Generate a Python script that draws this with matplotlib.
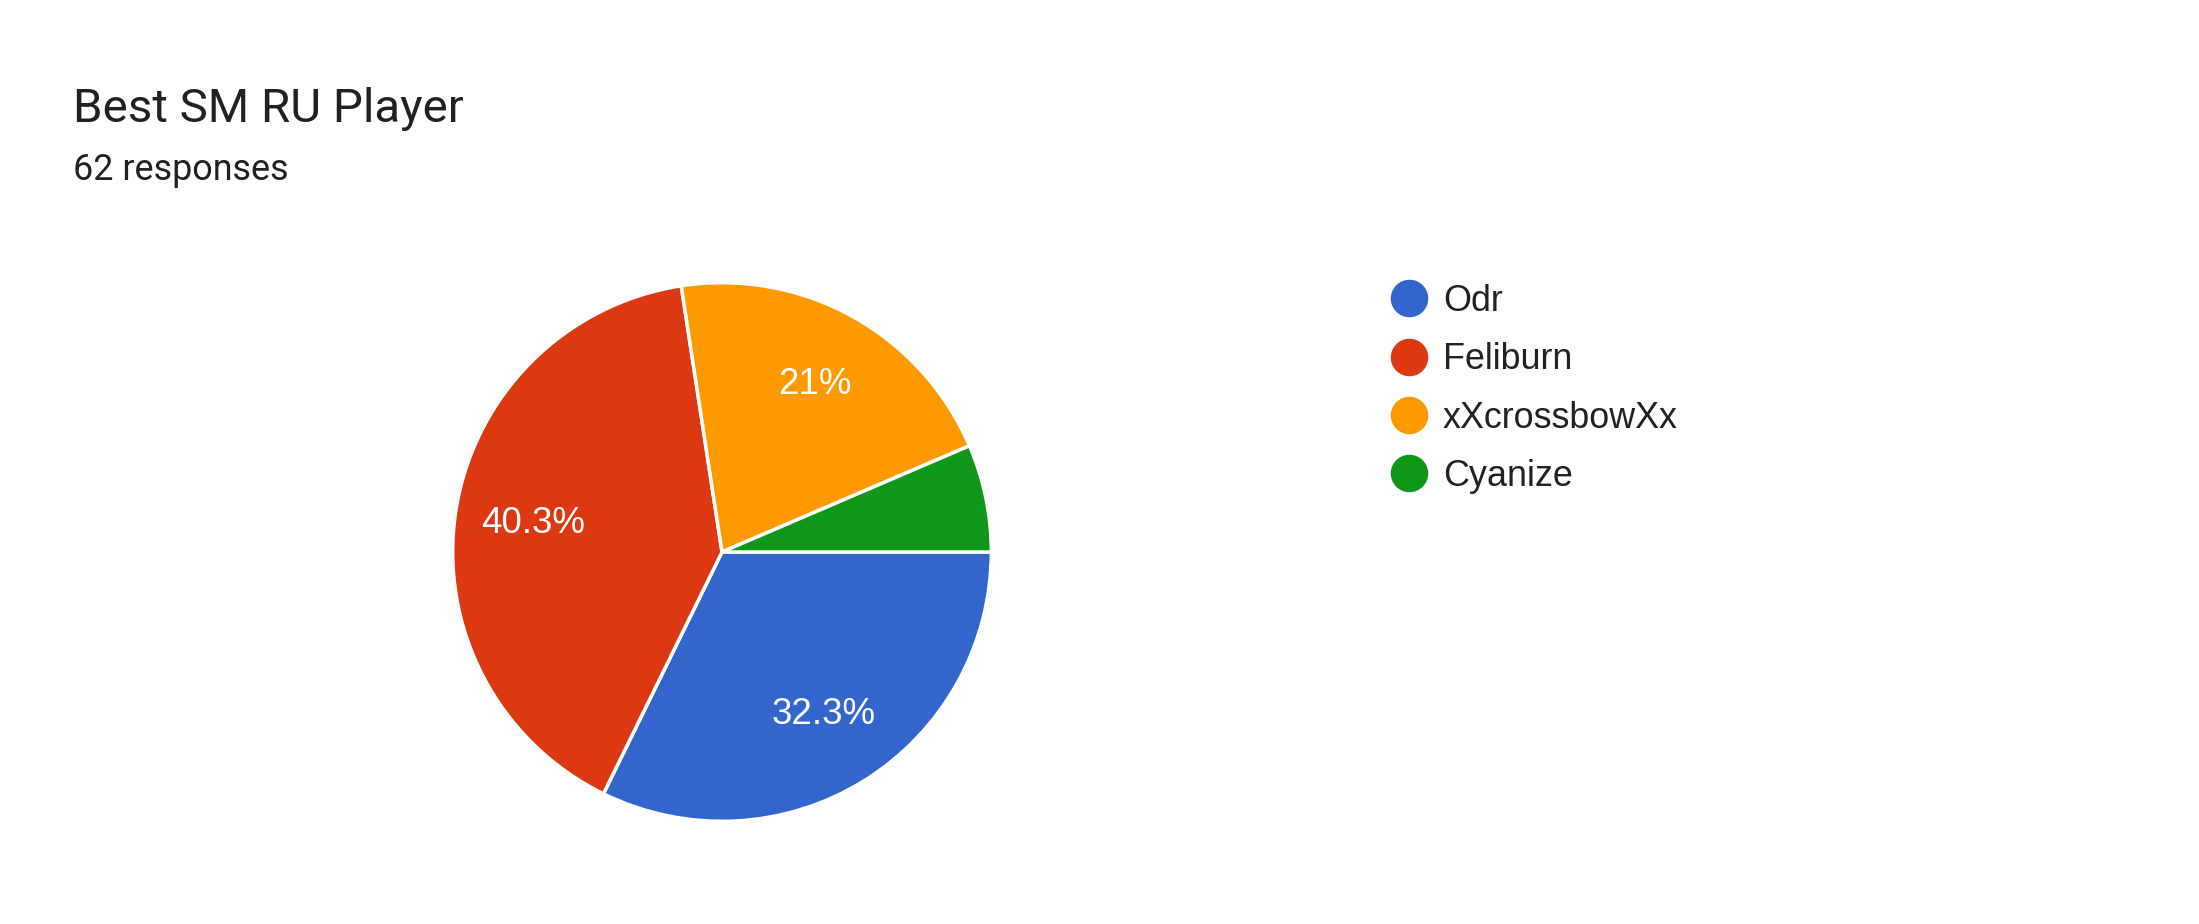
import matplotlib
matplotlib.use('Agg')
import matplotlib.pyplot as plt
from matplotlib.lines import Line2D

# data
players = ['Odr', 'Feliburn', 'xXcrossbowXx', 'Cyanize']
votes = [20, 25, 13, 4]
colors = ['#3366cc', '#dc3912', '#ff9900', '#109618']
title = 'Best SM RU Player'
subtitle = '62 responses'

W, H = 2199, 924
fig = plt.figure(figsize=(W / 100, H / 100), dpi=100)
fig.patch.set_facecolor('white')


def fx(px):
    return px / W


def fy(py):
    return 1 - py / H


fig.text(fx(73), fy(122), title, family='Roboto', fontsize=34.2,
         color='#202124', va='baseline')
fig.text(fx(73), fy(180), subtitle, family='Roboto', fontsize=25.8,
         color='#202124', va='baseline')

# pie: centre (722, 552), radius 272 px
cx, cy, r = 722, 552, 272
ax = fig.add_axes([fx(cx - r), fy(cy + r), 2 * r / W, 2 * r / H])


def pct_label(p):
    if p < 10:
        return ''
    s = f'{p:.1f}'
    if s.endswith('.0'):
        s = s[:-2]
    return s + '%'


wedges, texts, autotexts = ax.pie(
    votes, colors=colors, startangle=0, counterclock=False,
    autopct=pct_label, pctdistance=0.71, radius=1,
    wedgeprops=dict(edgecolor='white', linewidth=2.5),
    textprops=dict(color='white', fontsize=26.5, family='Liberation Sans'))
ax.set_xlim(-1.01, 1.01)
ax.set_ylim(-1.01, 1.01)
ax.set_aspect('equal')
ax.axis('off')

handles = [Line2D([], [], marker='o', linestyle='', markersize=26,
                  markerfacecolor=c, markeredgecolor=c) for c in colors]
leg = fig.legend(handles, players, loc='upper left',
                 bbox_to_anchor=(fx(1391), fy(284)),
                 frameon=False, borderpad=0, borderaxespad=0,
                 handlelength=1.0, handletextpad=0.45, labelspacing=0.65,
                 prop=dict(family='Liberation Sans', size=25.8))
for t in leg.get_texts():
    t.set_color('#222222')

fig.savefig('out.png', dpi=100, facecolor='white')
